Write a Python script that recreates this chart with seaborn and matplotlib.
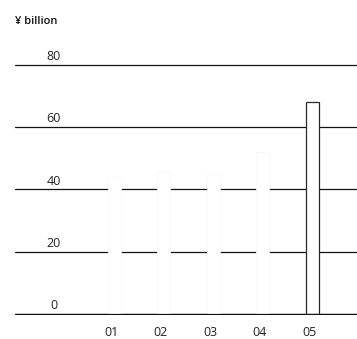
import matplotlib
matplotlib.use("Agg")
import matplotlib.pyplot as plt
import matplotlib.transforms as mtransforms
import seaborn as sns
import pandas as pd

# Fiscal years and amounts (¥ billion)
years = ["01", "02", "03", "04", "05"]
amounts = [44, 46, 45, 52, 68]
y_ticks = [0, 20, 40, 60, 80]

sns.set_theme(style="white")
plt.rcParams["font.family"] = ["Open Sans", "DejaVu Sans"]

df = pd.DataFrame({"year": years, "amount": amounts})

fig = plt.figure(figsize=(3.57, 3.39), dpi=100)
ax = fig.add_axes([0.042, 0.0708, 0.958, 0.740])

sns.barplot(data=df, x="year", y="amount", color="white", width=0.26,
            saturation=1, ax=ax, zorder=3)

# earlier years are drawn with a barely visible outline, latest year outlined
for i, patch in enumerate(ax.patches):
    patch.set_facecolor("white")
    if i == len(ax.patches) - 1:
        patch.set_edgecolor("#2a2a2a")
        patch.set_linewidth(0.9)
    else:
        patch.set_edgecolor("#f6f6f6")
        patch.set_linewidth(0.5)

ax.set_xlim(-2.0, 4.9)
ax.set_ylim(-0.4, 80.3)
ax.set_yticks(y_ticks)
ax.set_yticklabels([])
ax.tick_params(axis="y", length=0)
ax.yaxis.grid(True, color="#111111", linewidth=0.9)
ax.set_axisbelow(True)
for s in ax.spines.values():
    s.set_visible(False)

# baseline drawn across the full width, over the bars
ax.axhline(0, color="#111111", linewidth=0.9, zorder=4)

ax.set_xlabel("")
ax.set_ylabel("")
ax.tick_params(axis="x", length=0, pad=8, labelsize=9, colors="#222222")
offset = mtransforms.ScaledTranslation(-3 / 100, 0, fig.dpi_scale_trans)
for lbl in ax.get_xticklabels():
    lbl.set_transform(lbl.get_transform() + offset)

# value labels sit just above each gridline near the left edge
trans = mtransforms.blended_transform_factory(ax.transAxes, ax.transData)
for v in y_ticks:
    ax.text(0.113, v + 0.6, str(v), transform=trans, ha="center", va="bottom",
            fontsize=9, color="#222222")

fig.text(15 / 357, 1 - 21 / 339, "¥ billion", ha="left", va="center",
         fontsize=8, fontweight="semibold", color="#111111")

fig.savefig("out.png", dpi=100)
